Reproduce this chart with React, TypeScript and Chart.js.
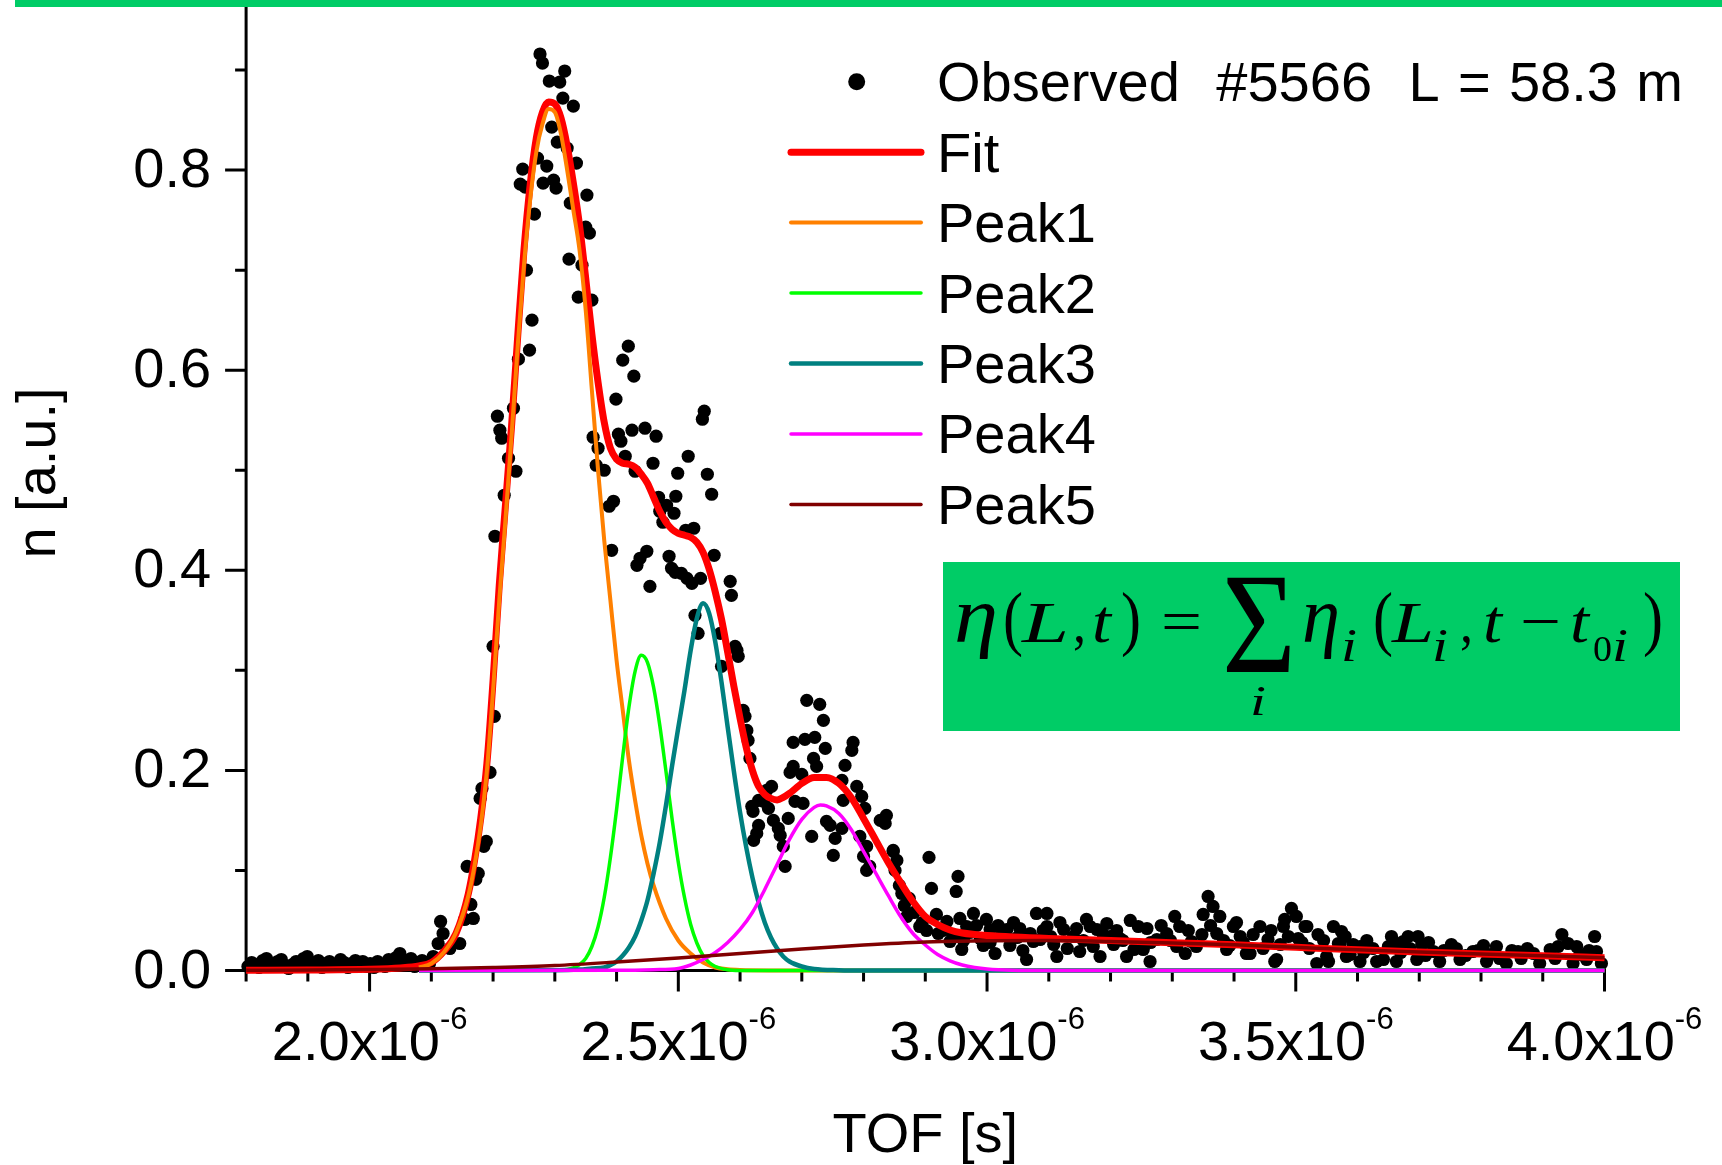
import { useEffect, useRef } from 'react';
import { Chart, registerables } from 'chart.js';

Chart.register(...registerables);

const W = 1722;
const H = 1165;
const MICRO = 1e-6;
const SANS = '"Liberation Sans", Arial, Helvetica, sans-serif';
const SERIF = '"Liberation Serif", "Times New Roman", serif';
const GREEN_BOX = '#00CC66';

// ---------- axis ranges and ticks (time in microseconds, shown as x10^-6 s) ----------
const xMin = 1.8;
const xMax = 4.0;
const yMin = 0;
const yMax = 0.9633;
const xMajorTicks = [2.0, 2.5, 3.0, 3.5, 4.0];
const xTickLabels = ['2.0x10', '2.5x10', '3.0x10', '3.5x10', '4.0x10'];
const xTickExponent = '-6';
const xMinorTicks = [1.8, 1.9, 2.1, 2.2, 2.3, 2.4, 2.6, 2.7, 2.8, 2.9, 3.1, 3.2, 3.3, 3.4, 3.6, 3.7, 3.8, 3.9];
const yMajorTicks = [0, 0.2, 0.4, 0.6, 0.8];
const yTickLabels = ['0.0', '0.2', '0.4', '0.6', '0.8'];
const yMinorTicks = [0.1, 0.3, 0.5, 0.7, 0.9];
const xTitle = 'TOF [s]';
const yTitle = 'n [a.u.]';

// ---------- observed points ----------
const obsTimeA = [
  1.803, 1.809, 1.815, 1.821, 1.827, 1.833, 1.839, 1.845, 1.851, 1.857,
  1.863, 1.869, 1.875, 1.881, 1.887, 1.893, 1.899, 1.905, 1.911, 1.917,
  1.923, 1.929, 1.935, 1.941, 1.947, 1.953, 1.959, 1.965, 1.971, 1.977,
  1.983, 1.989, 1.995, 2.001, 2.007, 2.013, 2.019, 2.025, 2.031, 2.037,
  2.043, 2.049, 2.055, 2.061, 2.067, 2.073, 2.079, 2.085, 2.091,
];
const obsValueA = [
  0.004, 0.008, 0.006, 0.003, 0.010, 0.012, 0.007, 0.004, 0.009, 0.011,
  0.005, 0.002, 0.006, 0.009, 0.004, 0.012, 0.014, 0.008, 0.005, 0.010,
  0.003, 0.007, 0.009, 0.004, 0.006, 0.011, 0.008, 0.003, 0.007, 0.010,
  0.005, 0.009, 0.004, 0.007, 0.003, 0.009, 0.006, 0.004, 0.011, 0.008,
  0.013, 0.017, 0.006, 0.009, 0.012, 0.004, 0.008, 0.010, 0.007,
];
const obsTimeB = [
  2.097, 2.103, 2.111, 2.115, 2.119, 2.130, 2.146, 2.154, 2.158, 2.164,
  2.168, 2.172, 2.176, 2.179, 2.182, 2.185, 2.189, 2.195, 2.200, 2.202,
  2.203, 2.207, 2.211, 2.214, 2.218, 2.225, 2.233, 2.237, 2.241, 2.244,
  2.248, 2.252, 2.254, 2.259, 2.263, 2.267, 2.272, 2.276, 2.280, 2.281,
  2.287, 2.291, 2.295, 2.298, 2.302, 2.304, 2.308, 2.313, 2.316, 2.320,
  2.323, 2.325, 2.330, 2.335, 2.338, 2.344, 2.350, 2.352, 2.356, 2.360,
  2.362, 2.367, 2.370, 2.380, 2.388, 2.392, 2.395, 2.399,
];
const obsValueB = [
  0.007, 0.014, 0.027, 0.049, 0.037, 0.022, 0.027, 0.051, 0.104, 0.066,
  0.052, 0.091, 0.097, 0.172, 0.182, 0.124, 0.129, 0.198, 0.324, 0.254,
  0.434, 0.554, 0.540, 0.532, 0.475, 0.512, 0.562, 0.499, 0.611, 0.786,
  0.801, 0.783, 0.700, 0.620, 0.650, 0.756, 0.812, 0.916, 0.907, 0.787,
  0.804, 0.889, 0.843, 0.790, 0.782, 0.828, 0.888, 0.872, 0.899, 0.822,
  0.711, 0.767, 0.864, 0.807, 0.673, 0.705, 0.743, 0.775, 0.737, 0.670,
  0.533, 0.505, 0.522, 0.500, 0.464, 0.420, 0.469, 0.571,
];
const obsTimeC = [
  2.403, 2.407, 2.410, 2.414, 2.419, 2.425, 2.428, 2.430, 2.433, 2.438,
  2.446, 2.449, 2.454, 2.459, 2.464, 2.468, 2.470, 2.475, 2.481, 2.485,
  2.489, 2.493, 2.495, 2.496, 2.499, 2.505, 2.512, 2.514, 2.516, 2.522,
  2.525, 2.527, 2.532, 2.536, 2.539, 2.542, 2.547, 2.554, 2.558, 2.568,
  2.570, 2.584, 2.586, 2.592, 2.595, 2.597, 2.605, 2.608, 2.611, 2.613,
  2.616, 2.619, 2.621, 2.622, 2.627, 2.630, 2.630,
];
const obsValueC = [
  0.536, 0.529, 0.610, 0.514, 0.624, 0.540, 0.594, 0.499, 0.405, 0.412,
  0.542, 0.419, 0.384, 0.507, 0.534, 0.473, 0.459, 0.448, 0.465, 0.414,
  0.402, 0.457, 0.398, 0.474, 0.497, 0.397, 0.440, 0.392, 0.514, 0.387,
  0.442, 0.355, 0.337, 0.392, 0.551, 0.559, 0.496, 0.476, 0.415, 0.337,
  0.304, 0.389, 0.375, 0.324, 0.320, 0.314, 0.260, 0.254, 0.240, 0.230,
  0.212, 0.164, 0.159, 0.130, 0.137, 0.170, 0.145,
];
const obsTimeD = [
  2.638, 2.643, 2.646, 2.651, 2.654, 2.662, 2.665, 2.670, 2.673, 2.678,
  2.681, 2.686, 2.686, 2.689, 2.700, 2.702, 2.705, 2.708, 2.716, 2.719,
  2.721, 2.724, 2.729, 2.735, 2.738, 2.740, 2.746, 2.751, 2.754, 2.765,
  2.765, 2.767, 2.770, 2.781, 2.783, 2.789, 2.794, 2.797, 2.800, 2.802,
  2.805, 2.805, 2.810, 2.827, 2.835, 2.837, 2.848, 2.848, 2.851, 2.854,
];
const obsValueD = [
  0.169, 0.180, 0.162, 0.184, 0.150, 0.142, 0.135, 0.124, 0.104, 0.152,
  0.198, 0.228, 0.204, 0.169, 0.196, 0.167, 0.231, 0.270, 0.134, 0.212,
  0.233, 0.204, 0.266, 0.250, 0.222, 0.149, 0.145, 0.115, 0.132, 0.190,
  0.142, 0.170, 0.205, 0.220, 0.228, 0.184, 0.134, 0.174, 0.114, 0.162,
  0.124, 0.100, 0.104, 0.150, 0.147, 0.155, 0.119, 0.120, 0.100, 0.110,
];
const obsTimeE = [
  2.858, 2.862, 2.866, 2.870, 2.874, 2.882, 2.891, 2.895, 2.902, 2.906,
  2.910, 2.918, 2.921, 2.928, 2.935, 2.940, 2.945, 2.950, 2.953, 2.956,
  2.959, 2.962, 2.967, 2.972, 2.978, 2.983, 2.989, 2.994, 2.999,
];
const obsValueE = [
  0.085, 0.077, 0.065, 0.054, 0.072, 0.058, 0.044, 0.048, 0.040, 0.113,
  0.082, 0.056, 0.037, 0.040, 0.049, 0.029, 0.035, 0.079, 0.094, 0.052,
  0.021, 0.030, 0.044, 0.038, 0.057, 0.045, 0.032, 0.025, 0.051,
];
const obsTimeF = [
  3.005, 3.005, 3.013, 3.018, 3.024, 3.032, 3.037, 3.043, 3.049, 3.053,
  3.058, 3.064, 3.070, 3.075, 3.080, 3.086, 3.091, 3.097, 3.097, 3.103,
  3.108, 3.113, 3.118, 3.124, 3.130, 3.140, 3.145, 3.150, 3.156, 3.161,
  3.167, 3.172, 3.178, 3.183, 3.188, 3.194, 3.199, 3.205, 3.210, 3.215,
  3.220, 3.226, 3.232, 3.238, 3.245, 3.253, 3.259, 3.264, 3.265, 3.275,
  3.282, 3.291, 3.297, 3.304, 3.307, 3.312, 3.321, 3.326, 3.331, 3.339,
  3.348, 3.350, 3.358, 3.362, 3.366, 3.372, 3.377, 3.383, 3.388, 3.393,
  3.399,
];
const obsValueF = [
  0.041, 0.028, 0.017, 0.045, 0.036, 0.041, 0.025, 0.048, 0.033, 0.042,
  0.020, 0.011, 0.037, 0.029, 0.057, 0.031, 0.040, 0.057, 0.044, 0.034,
  0.026, 0.014, 0.048, 0.041, 0.022, 0.034, 0.042, 0.019, 0.030, 0.051,
  0.044, 0.024, 0.041, 0.014, 0.036, 0.047, 0.034, 0.026, 0.040, 0.032,
  0.030, 0.014, 0.050, 0.021, 0.044, 0.021, 0.042, 0.009, 0.028, 0.031,
  0.045, 0.037, 0.030, 0.054, 0.024, 0.044, 0.017, 0.040, 0.029, 0.024,
  0.036, 0.056, 0.074, 0.045, 0.064, 0.037, 0.054, 0.030, 0.021, 0.025,
  0.044,
];
const obsTimeG = [
  3.404, 3.410, 3.415, 3.420, 3.426, 3.431, 3.442, 3.447, 3.455, 3.460,
  3.466, 3.469, 3.475, 3.480, 3.482, 3.488, 3.493, 3.501, 3.504, 3.510,
  3.515, 3.518, 3.522, 3.534, 3.536, 3.545, 3.550, 3.553, 3.561, 3.569,
  3.572, 3.574, 3.580, 3.582, 3.588, 3.593, 3.604, 3.604, 3.610, 3.615,
  3.625, 3.631, 3.642, 3.650, 3.655, 3.663, 3.663, 3.670, 3.674, 3.682,
  3.685, 3.696, 3.698, 3.704, 3.710, 3.715, 3.723, 3.733, 3.740, 3.752,
  3.760, 3.766, 3.775, 3.787, 3.795, 3.804, 3.809, 3.815, 3.825, 3.830,
  3.841, 3.850, 3.860, 3.865, 3.875, 3.885, 3.895, 3.912, 3.920, 3.925,
  3.931, 3.941, 3.949, 3.955, 3.960, 3.971, 3.975, 3.984, 3.987, 3.995,
];
const obsValueG = [
  0.048, 0.034, 0.028, 0.017, 0.017, 0.036, 0.044, 0.022, 0.031, 0.040,
  0.009, 0.011, 0.026, 0.044, 0.051, 0.034, 0.062, 0.054, 0.032, 0.028,
  0.044, 0.044, 0.022, 0.007, 0.036, 0.030, 0.014, 0.009, 0.044, 0.027,
  0.027, 0.039, 0.034, 0.014, 0.016, 0.026, 0.024, 0.009, 0.018, 0.030,
  0.022, 0.009, 0.011, 0.024, 0.034, 0.027, 0.009, 0.018, 0.029, 0.034,
  0.022, 0.011, 0.034, 0.026, 0.015, 0.028, 0.019, 0.009, 0.020, 0.026,
  0.022, 0.011, 0.015, 0.019, 0.020, 0.025, 0.009, 0.016, 0.024, 0.012,
  0.007, 0.020, 0.019, 0.012, 0.022, 0.017, 0.007, 0.021, 0.012, 0.024,
  0.036, 0.027, 0.007, 0.024, 0.016, 0.011, 0.020, 0.034, 0.019, 0.007,
];

// ---------- fit curve ----------
const fitTime = [
  1.80, 1.90, 2.00, 2.05, 2.08, 2.10, 2.12, 2.14, 2.16, 2.17,
  2.18, 2.19, 2.20, 2.21, 2.22, 2.23, 2.24, 2.25, 2.26, 2.27,
  2.28, 2.29, 2.30, 2.31, 2.32, 2.33, 2.34, 2.35, 2.36, 2.37,
  2.38, 2.39, 2.40, 2.41, 2.42, 2.43, 2.44, 2.45, 2.46, 2.47,
  2.48, 2.49, 2.50, 2.51, 2.52, 2.53, 2.54, 2.55, 2.56, 2.57,
  2.58, 2.59, 2.60, 2.61, 2.62, 2.63, 2.64, 2.65, 2.66, 2.67,
  2.68, 2.69, 2.70, 2.72, 2.74, 2.76, 2.78, 2.80, 2.82, 2.84,
  2.86, 2.88, 2.90, 2.92, 2.94, 2.96, 2.98, 3.00, 3.10, 3.20,
  3.30, 3.40, 3.50, 3.60, 3.70, 3.80, 3.90, 4.00,
];
const fitValue = [
  0.0002, 0.0005, 0.0012, 0.0025, 0.0045, 0.008, 0.019, 0.037, 0.077, 0.11,
  0.152, 0.207, 0.29, 0.385, 0.465, 0.545, 0.635, 0.72, 0.785, 0.832,
  0.858, 0.868, 0.866, 0.852, 0.824, 0.787, 0.745, 0.692, 0.636, 0.588,
  0.548, 0.522, 0.511, 0.507, 0.506, 0.503, 0.496, 0.487, 0.473, 0.459,
  0.448, 0.441, 0.437, 0.435, 0.433, 0.428, 0.418, 0.401, 0.378, 0.351,
  0.318, 0.284, 0.252, 0.223, 0.200, 0.184, 0.176, 0.172, 0.1705, 0.173,
  0.177, 0.182, 0.187, 0.193, 0.193, 0.187, 0.173, 0.152, 0.13, 0.108,
  0.088, 0.069, 0.054, 0.046, 0.0405, 0.0375, 0.036, 0.035, 0.032, 0.030,
  0.0278, 0.0257, 0.0232, 0.0207, 0.0185, 0.0165, 0.0147, 0.0128,
];

// ---------- peak components ----------
const peak1Time = [
  2.08, 2.10, 2.12, 2.14, 2.16, 2.17, 2.18, 2.19, 2.20, 2.21,
  2.22, 2.23, 2.24, 2.25, 2.26, 2.27, 2.28, 2.29, 2.30, 2.31,
  2.32, 2.33, 2.34, 2.35, 2.36, 2.37, 2.38, 2.39, 2.40, 2.41,
  2.42, 2.43, 2.44, 2.45, 2.46, 2.48, 2.50, 2.52, 2.54, 2.56,
  2.58, 2.60, 2.65, 2.80, 3.20, 4.00,
];
const peak1Value = [
  0.003, 0.007, 0.018, 0.038, 0.075, 0.105, 0.145, 0.20, 0.28, 0.37,
  0.45, 0.535, 0.625, 0.705, 0.77, 0.818, 0.846, 0.861, 0.858, 0.836,
  0.80, 0.76, 0.72, 0.66, 0.58, 0.50, 0.43, 0.37, 0.31, 0.26,
  0.21, 0.17, 0.135, 0.107, 0.085, 0.052, 0.03, 0.017, 0.008, 0.003,
  0.0012, 0.0005, 0.0001, 0, 0, 0,
];
const peak2Time = [
  2.08, 2.30, 2.32, 2.33, 2.34, 2.35, 2.36, 2.37, 2.38, 2.39,
  2.40, 2.41, 2.42, 2.43, 2.44, 2.45, 2.46, 2.47, 2.48, 2.49,
  2.50, 2.51, 2.52, 2.53, 2.54, 2.55, 2.56, 2.58, 2.60, 2.65,
  4.00,
];
const peak2Value = [
  0, 0.0002, 0.001, 0.0026, 0.006, 0.012, 0.024, 0.0435, 0.073, 0.113,
  0.161, 0.214, 0.263, 0.299, 0.315, 0.308, 0.283, 0.245, 0.199, 0.151,
  0.108, 0.073, 0.046, 0.0275, 0.015, 0.008, 0.004, 0.0008, 0.0001, 0,
  0,
];
const peak3Time = [
  2.08, 2.30, 2.34, 2.36, 2.38, 2.39, 2.40, 2.41, 2.42, 2.43,
  2.44, 2.45, 2.46, 2.47, 2.48, 2.49, 2.50, 2.51, 2.52, 2.53,
  2.54, 2.55, 2.56, 2.57, 2.58, 2.59, 2.60, 2.61, 2.62, 2.63,
  2.64, 2.65, 2.66, 2.67, 2.68, 2.70, 2.72, 2.76, 2.80, 4.00,
];
const peak3Value = [
  0, 0.0003, 0.001, 0.002, 0.003, 0.0055, 0.009, 0.015, 0.023, 0.034,
  0.05, 0.07, 0.097, 0.128, 0.165, 0.205, 0.243, 0.28, 0.32, 0.352,
  0.367, 0.357, 0.328, 0.288, 0.243, 0.199, 0.158, 0.123, 0.093, 0.068,
  0.048, 0.033, 0.022, 0.014, 0.009, 0.004, 0.0015, 0.0003, 0, 0,
];
const peak4Time = [
  2.08, 2.40, 2.46, 2.50, 2.52, 2.54, 2.56, 2.58, 2.60, 2.62,
  2.64, 2.66, 2.68, 2.70, 2.72, 2.73, 2.74, 2.76, 2.78, 2.80,
  2.82, 2.84, 2.86, 2.88, 2.90, 2.92, 2.94, 2.96, 2.98, 3.00,
  3.04, 3.10, 4.00,
];
const peak4Value = [
  0, 0.0002, 0.0008, 0.002, 0.0055, 0.011, 0.018, 0.028, 0.041, 0.058,
  0.081, 0.106, 0.131, 0.151, 0.163, 0.1654, 0.1645, 0.157, 0.141, 0.119,
  0.097, 0.075, 0.054, 0.037, 0.0255, 0.016, 0.0097, 0.0055, 0.003, 0.0015,
  0.0003, 0, 0,
];
const peak5Time = [
  1.8, 1.9, 2.0, 2.1, 2.2, 2.3, 2.4, 2.5, 2.6, 2.7,
  2.8, 2.9, 3.0, 3.1, 3.2, 3.3, 3.4, 3.5, 3.6, 3.7,
  3.8, 3.9, 4.0,
];
const peak5Value = [
  0.0002, 0.0005, 0.001, 0.0017, 0.003, 0.005, 0.0085, 0.0125, 0.017, 0.0215,
  0.0255, 0.0285, 0.0298, 0.0299, 0.029, 0.0276, 0.0257, 0.0232, 0.0207, 0.0185,
  0.0165, 0.0147, 0.0128,
];

// ---------- legend ----------
const legendLabels = ['Observed  #5566  L = 58.3 m', 'Fit', 'Peak1', 'Peak2', 'Peak3', 'Peak4', 'Peak5'];
const seriesColors = ['#000000', '#FF0000', '#FF8000', '#00FF00', '#008080', '#FF00FF', '#800000'];
const seriesWidths = [0, 7, 4, 3.5, 4.5, 3.5, 3.5];

// formula pieces: [text, left x, baseline y, font, target width]
const formulaPieces: [string, number, number, string, number][] = [
  ['η', 954, 642, 'italic 80px', 44],
  ['(', 1003, 642, '72px', 20],
  ['L', 1022, 642, 'italic 58px', 47],
  [',', 1073, 642, '58px', 13],
  ['t', 1092, 642, 'italic 62px', 19],
  [')', 1121, 642, '72px', 20],
  ['=', 1161, 642, '62px', 41],
  ['Σ', 1222, 672, '144px', 74],
  ['i', 1250, 715, 'italic 42px', 16],
  ['η', 1302, 642, 'italic 80px', 38],
  ['i', 1341, 661, 'italic 46px', 16],
  ['(', 1373, 642, '72px', 20],
  ['L', 1392, 642, 'italic 58px', 42],
  ['i', 1432, 661, 'italic 46px', 16],
  [',', 1460, 642, '58px', 13],
  ['t', 1483, 642, 'italic 62px', 19],
  ['−', 1520, 642, '62px', 41],
  ['t', 1570, 642, 'italic 62px', 19],
  ['0', 1593, 661, '36px', 19],
  ['i', 1612, 661, 'italic 46px', 16],
  [')', 1643, 642, '72px', 20],
];

const toPoints = (ts: number[], vs: number[]) => ts.map((t, i) => ({ x: t * MICRO, y: vs[i] }));

const observedPoints = [
  ...toPoints(obsTimeA, obsValueA),
  ...toPoints(obsTimeB, obsValueB),
  ...toPoints(obsTimeC, obsValueC),
  ...toPoints(obsTimeD, obsValueD),
  ...toPoints(obsTimeE, obsValueE),
  ...toPoints(obsTimeF, obsValueF),
  ...toPoints(obsTimeG, obsValueG),
];

const axesPlugin = {
  id: 'customAxes',
  beforeDatasetsDraw(chart: any) {
    const ctx: CanvasRenderingContext2D = chart.ctx;
    const { left, right, top, bottom } = chart.chartArea;
    const xs = chart.scales.x;
    const ys = chart.scales.y;
    ctx.save();
    ctx.strokeStyle = '#000';
    ctx.lineWidth = 3;
    ctx.lineCap = 'butt';
    ctx.beginPath();
    ctx.moveTo(left, top);
    ctx.lineTo(left, bottom + 1.5);
    ctx.moveTo(left - 1.5, bottom);
    ctx.lineTo(right + 1.5, bottom);
    xMajorTicks.forEach((t) => {
      const px = xs.getPixelForValue(t * MICRO);
      ctx.moveTo(px, bottom);
      ctx.lineTo(px, bottom + 21);
    });
    xMinorTicks.forEach((t) => {
      const px = xs.getPixelForValue(t * MICRO);
      ctx.moveTo(px, bottom);
      ctx.lineTo(px, bottom + 11);
    });
    yMajorTicks.forEach((v) => {
      const py = ys.getPixelForValue(v);
      ctx.moveTo(left, py);
      ctx.lineTo(left - 21, py);
    });
    yMinorTicks.forEach((v) => {
      const py = ys.getPixelForValue(v);
      ctx.moveTo(left, py);
      ctx.lineTo(left - 11, py);
    });
    ctx.stroke();

    ctx.fillStyle = '#000';
    ctx.textBaseline = 'alphabetic';
    // y tick labels
    ctx.font = `56px ${SANS}`;
    ctx.textAlign = 'right';
    yMajorTicks.forEach((v, i) => {
      ctx.fillText(yTickLabels[i], left - 35, ys.getPixelForValue(v) + 17);
    });
    // x tick labels with superscript exponent
    ctx.textAlign = 'left';
    xMajorTicks.forEach((t, i) => {
      const px = xs.getPixelForValue(t * MICRO);
      ctx.font = `56px ${SANS}`;
      const wMain = ctx.measureText(xTickLabels[i]).width;
      ctx.font = `31px ${SANS}`;
      const wSup = ctx.measureText(xTickExponent).width;
      const x0 = px - (wMain + wSup) / 2;
      ctx.font = `56px ${SANS}`;
      ctx.fillText(xTickLabels[i], x0, bottom + 89.5);
      ctx.font = `31px ${SANS}`;
      ctx.fillText(xTickExponent, x0 + wMain, bottom + 58);
    });
    // axis titles
    ctx.font = `56px ${SANS}`;
    ctx.textAlign = 'center';
    ctx.fillText(xTitle, (left + right) / 2, bottom + 181.5);
    ctx.save();
    ctx.translate(55, 473);
    ctx.rotate(-Math.PI / 2);
    ctx.fillText(yTitle, 0, 0);
    ctx.restore();
    ctx.restore();
  },
  afterDraw(chart: any) {
    const ctx: CanvasRenderingContext2D = chart.ctx;
    ctx.save();
    // top green bar
    ctx.fillStyle = GREEN_BOX;
    ctx.fillRect(15, 0, W - 15, 7);

    // legend
    const rowY0 = 81.7;
    const rowStep = 70.45;
    ctx.font = `56px ${SANS}`;
    ctx.textAlign = 'left';
    ctx.textBaseline = 'alphabetic';
    legendLabels.forEach((label, i) => {
      const cy = rowY0 + i * rowStep;
      if (i === 0) {
        ctx.fillStyle = '#000';
        ctx.beginPath();
        ctx.arc(856.7, cy, 8.5, 0, Math.PI * 2);
        ctx.fill();
      } else {
        ctx.strokeStyle = seriesColors[i];
        ctx.lineWidth = seriesWidths[i];
        ctx.lineCap = 'round';
        ctx.beginPath();
        ctx.moveTo(791, cy);
        ctx.lineTo(921, cy);
        ctx.stroke();
      }
      ctx.fillStyle = '#000';
      (ctx as any).wordSpacing = i === 0 ? '2.7px' : '0px';
      ctx.fillText(label, 937, cy + 19.5);
    });
    (ctx as any).wordSpacing = '0px';

    // formula box
    ctx.fillStyle = GREEN_BOX;
    ctx.fillRect(943, 562, 737, 169);
    ctx.fillStyle = '#000';
    formulaPieces.forEach(([s, x, y, font, w]) => {
      ctx.font = `${font} ${SERIF}`;
      const m = ctx.measureText(s).width;
      const sx = m > 0 ? w / m : 1;
      ctx.save();
      ctx.translate(x, y);
      ctx.scale(sx, 1);
      ctx.fillText(s, 0, 0);
      ctx.restore();
    });
    ctx.restore();
  },
};

const lineDataset = (label: string, ts: number[], vs: number[], color: string, width: number, order: number) => ({
  type: 'line' as const,
  label,
  data: toPoints(ts, vs),
  borderColor: color,
  backgroundColor: color,
  borderWidth: width,
  pointRadius: 0,
  pointHoverRadius: 0,
  fill: false,
  cubicInterpolationMode: 'monotone' as const,
  borderJoinStyle: 'round' as const,
  clip: false,
  order,
});

export default function App() {
  const canvasRef = useRef<HTMLCanvasElement>(null);

  useEffect(() => {
    const canvas = canvasRef.current;
    if (!canvas) return;
    const chart = new Chart(canvas, {
      type: 'line',
      data: {
        datasets: [
          {
            type: 'scatter',
            label: 'Observed',
            data: observedPoints,
            backgroundColor: '#000',
            borderColor: '#000',
            borderWidth: 0,
            pointRadius: 6.6,
            pointHoverRadius: 6.6,
            showLine: false,
            clip: false,
            order: 10,
          } as any,
          lineDataset('Fit', fitTime, fitValue, seriesColors[1], seriesWidths[1], 6),
          lineDataset('Peak1', peak1Time, peak1Value, seriesColors[2], seriesWidths[2], 5),
          lineDataset('Peak2', peak2Time, peak2Value, seriesColors[3], seriesWidths[3], 4),
          lineDataset('Peak3', peak3Time, peak3Value, seriesColors[4], seriesWidths[4], 3),
          lineDataset('Peak4', peak4Time, peak4Value, seriesColors[5], seriesWidths[5], 2),
          lineDataset('Peak5', peak5Time, peak5Value, seriesColors[6], seriesWidths[6], 1),
        ],
      },
      options: {
        animation: false,
        responsive: false,
        devicePixelRatio: 1,
        events: [],
        layout: { padding: { left: 246.1, top: 6.7, right: 117.5, bottom: 194.5 } },
        scales: {
          x: { type: 'linear', display: false, min: xMin * MICRO, max: xMax * MICRO },
          y: { type: 'linear', display: false, min: yMin, max: yMax },
        },
        plugins: {
          legend: { display: false },
          tooltip: { enabled: false },
          title: { display: false },
        },
      },
      plugins: [axesPlugin],
    });
    return () => chart.destroy();
  }, []);

  return (
    <div style={{ position: 'fixed', left: 0, top: 0, width: W, height: H, background: '#ffffff' }}>
      <canvas ref={canvasRef} width={W} height={H} style={{ display: 'block', width: W, height: H }} />
    </div>
  );
}
